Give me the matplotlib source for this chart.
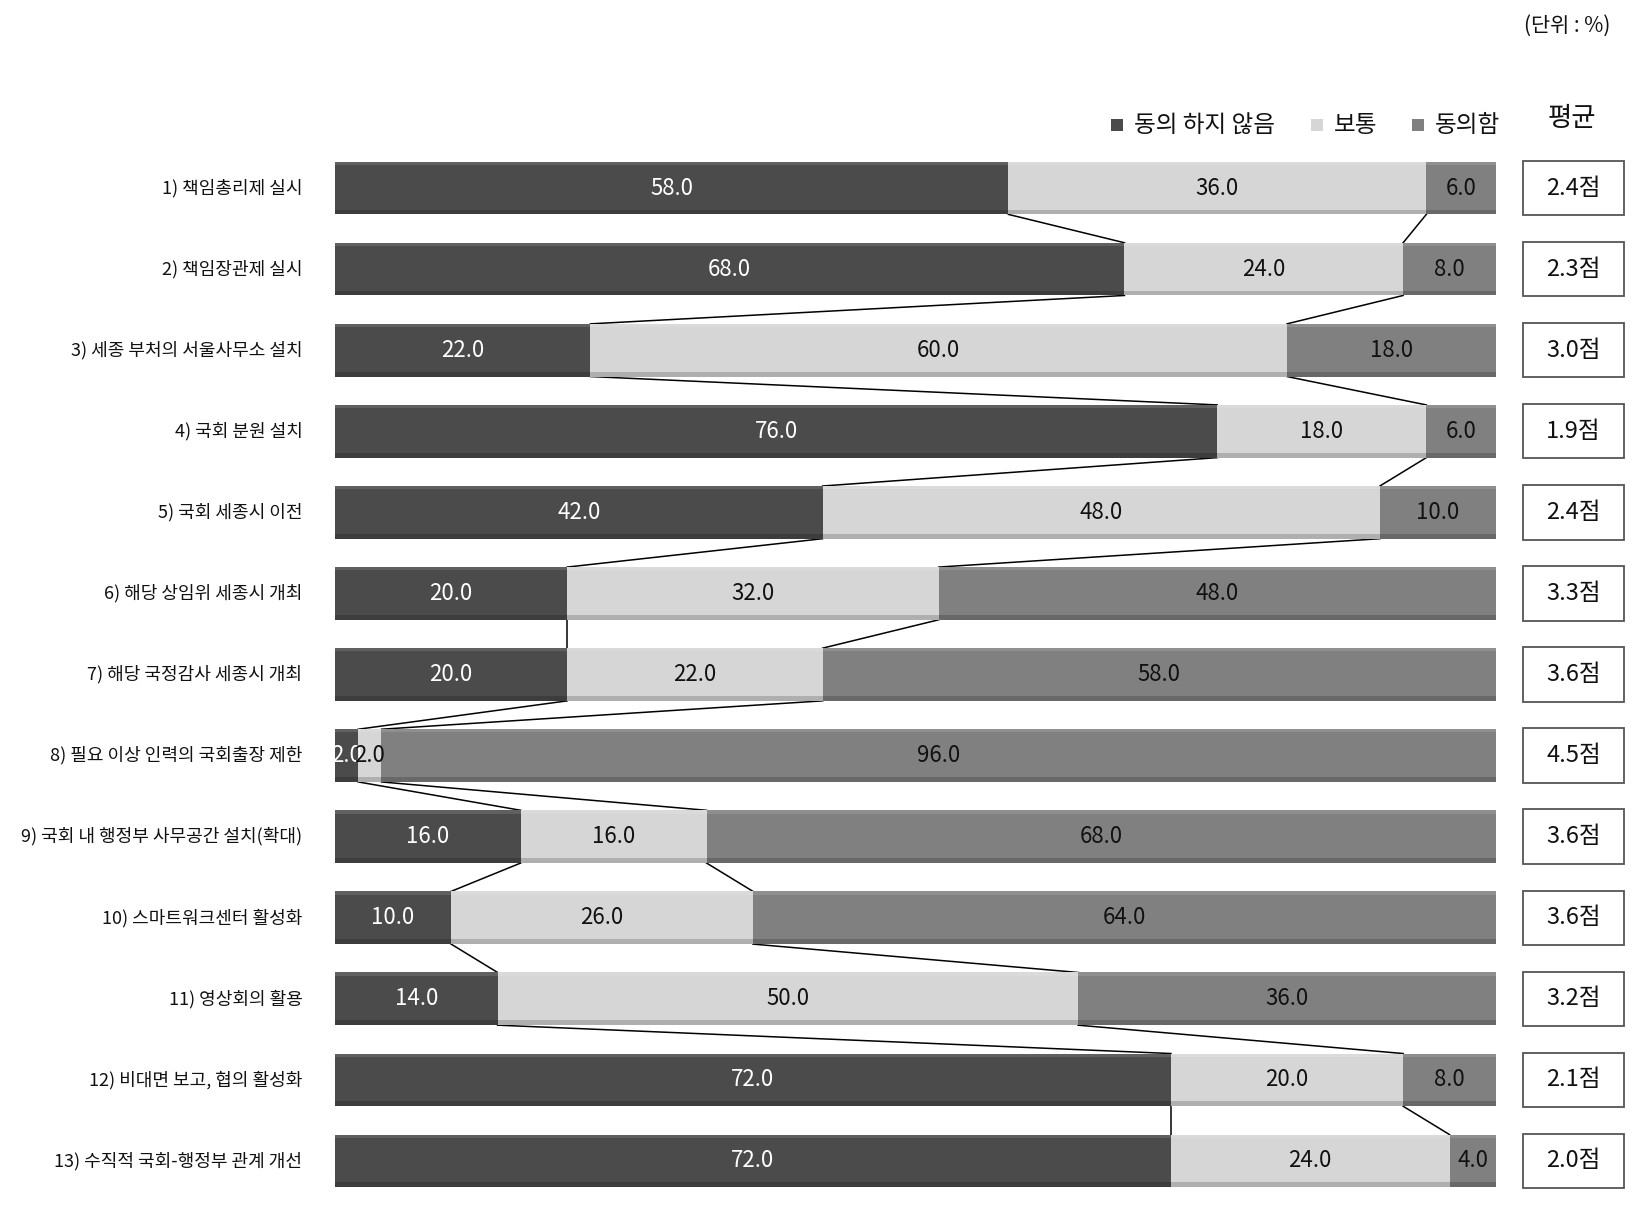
import matplotlib
matplotlib.use("Agg")
import matplotlib.pyplot as plt
from matplotlib.patches import Rectangle
from matplotlib.transforms import blended_transform_factory

categories = [
    "1) 책임총리제 실시",
    "2) 책임장관제 실시",
    "3) 세종 부처의 서울사무소 설치",
    "4) 국회 분원 설치",
    "5) 국회 세종시 이전",
    "6) 해당 상임위 세종시 개최",
    "7) 해당 국정감사 세종시 개최",
    "8) 필요 이상 인력의 국회출장 제한",
    "9) 국회 내 행정부 사무공간 설치(확대)",
    "10) 스마트워크센터 활성화",
    "11) 영상회의 활용",
    "12) 비대면 보고, 협의 활성화",
    "13) 수직적 국회-행정부 관계 개선",
]
disagree = [58.0, 68.0, 22.0, 76.0, 42.0, 20.0, 20.0, 2.0, 16.0, 10.0, 14.0, 72.0, 72.0]
neutral = [36.0, 24.0, 60.0, 18.0, 48.0, 32.0, 22.0, 2.0, 16.0, 26.0, 50.0, 20.0, 24.0]
agree = [6.0, 8.0, 18.0, 6.0, 10.0, 48.0, 58.0, 96.0, 68.0, 64.0, 36.0, 8.0, 4.0]
averages = ["2.4점", "2.3점", "3.0점", "1.9점", "2.4점", "3.3점", "3.6점", "4.5점",
            "3.6점", "3.6점", "3.2점", "2.1점", "2.0점"]
series_names = ["동의 하지 않음", "보통", "동의함"]

colors = ["#4b4b4b", "#d6d6d6", "#808080"]
text_colors = ["white", "#111111", "#111111"]
FAM = ["Liberation Sans Narrow", "Noto Sans CJK KR", "DejaVu Sans"]
plt.rcParams["font.family"] = FAM

W, H = 1649, 1208
fig = plt.figure(figsize=(W / 100, H / 100), dpi=100)
left, right = 335, 1496
top, bottom = 147.5, 1201.5
ax = fig.add_axes([left / W, 1 - bottom / H, (right - left) / W, (bottom - top) / H])
n = len(categories)
ax.set_xlim(0, 100)
ax.set_ylim(n - 0.5, -0.5)
ax.axis("off")

bh = 0.65
ys = list(range(n))
series = [disagree, neutral, agree]
starts = [0.0] * n
for k, vals in enumerate(series):
    ax.barh(ys, vals, left=starts, height=bh, color=colors[k], edgecolor="none", zorder=2)
    # subtle top highlight and bottom shading
    ax.barh([y - bh / 2 + 0.02 for y in ys], vals, left=starts, height=0.04,
            color="white", alpha=0.12, edgecolor="none", zorder=3)
    ax.barh([y + bh / 2 - 0.03 for y in ys], vals, left=starts, height=0.06,
            color="black", alpha=0.18, edgecolor="none", zorder=3)
    for i in ys:
        cx = starts[i] + vals[i] / 2
        ax.text(cx, i, f"{vals[i]:.1f}", ha="center", va="center", fontsize=16,
                color=text_colors[k], zorder=4)
    starts = [s + v for s, v in zip(starts, vals)]

# connector lines
b1 = disagree
b2 = [a + b for a, b in zip(disagree, neutral)]
for b in (b1, b2):
    for i in range(n - 1):
        ax.plot([b[i], b[i + 1]], [i + bh / 2, i + 1 - bh / 2], color="black", lw=1.1, zorder=1)

# category labels
for i, c in enumerate(categories):
    ax.text(-2.8, i, c, ha="right", va="center", fontsize=13, color="#111111")

# average boxes
tr = blended_transform_factory(fig.transFigure, ax.transData)
bx0, bx1 = 1523 / W, 1624 / W
for i, a in enumerate(averages):
    r = Rectangle((bx0, i - 0.335), bx1 - bx0, 0.67, transform=tr, facecolor="white",
                  edgecolor="#555555", lw=1.3, clip_on=False)
    ax.add_patch(r)
    ax.text((bx0 + bx1) / 2, i, a, transform=tr, ha="center", va="center", fontsize=17,
            color="#111111")

# header texts
fig.text(1572 / W, 1 - 118 / H, "평균", ha="center", va="center", fontsize=19, color="#111111")
fig.text(1567 / W, 1 - 26 / H, "(단위 : %)", ha="center", va="center", fontsize=15, color="#111111")

# legend
leg_x = [1117, 1317, 1418]
for k, name in enumerate(series_names):
    x = leg_x[k]
    fig.patches.append(Rectangle(((x - 6) / W, 1 - (125 + 6) / H), 12 / W, 12 / H,
                                 transform=fig.transFigure, facecolor=colors[k], edgecolor="none"))
    fig.text((x + 17) / W, 1 - 125 / H, name, ha="left", va="center", fontsize=17, color="#111111")

fig.savefig("out.png", dpi=100)
